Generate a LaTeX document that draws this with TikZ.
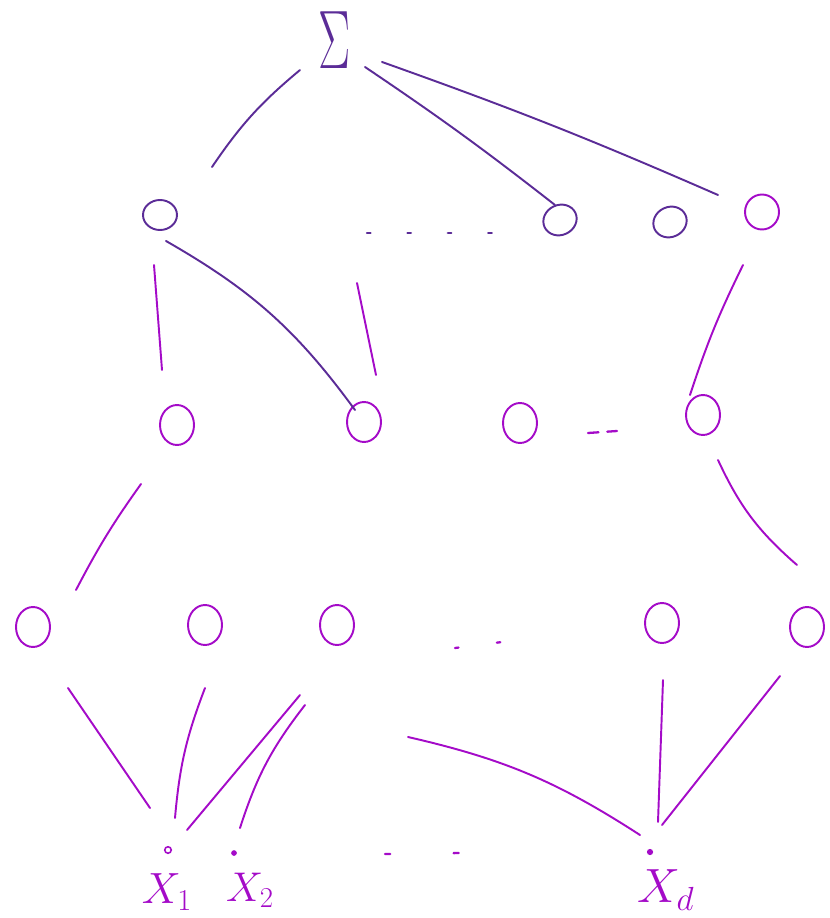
\documentclass[tikz,border=0pt]{standalone}
\usepackage{graphicx}
\usepackage{tikz}
\usetikzlibrary{calc, shapes.geometric}

\definecolor{inkdark}{HTML}{5B2C97}
\definecolor{inklight}{HTML}{A40BC8}

\begin{document}
\begin{tikzpicture}[
  x=0.02cm, y=-0.02cm,
  unit/.style={ellipse, draw, line width=1.1pt, minimum width=0.68cm, minimum height=0.8cm, inner sep=0pt},
  toprow/.style={unit, minimum width=0.68cm, minimum height=0.6cm},
  leaf/.style={circle, draw, line width=0.9pt, minimum size=0.13cm, inner sep=0pt},
  link/.style={line width=1.1pt, line cap=round},
  gap/.style={line width=1.3pt, line cap=round, dash pattern=on 2pt off 21pt},
  varlabel/.style={text=inklight, font=\fontsize{24}{26}\selectfont},
]
  \useasboundingbox (0,0) rectangle (829,918);

  % root
  \node[inkdark, font=\fontsize{24}{24}\selectfont] (sum) at (335,40) {\scalebox{1.1}[1.9]{$\Sigma$}};

  % first layer
  \node[toprow, inkdark] (a1) at (160,215) {};
  \node[toprow, inkdark, rotate=25] (a2) at (560,220) {};
  \node[toprow, inkdark, rotate=25] (a3) at (670,222) {};
  \node[unit, inklight, minimum height=0.7cm] (a4) at (762,212) {};
  \draw[gap, inkdark] (367,233) -- (492,233);

  % second layer
  \node[unit, inklight] (b1) at (177,425) {};
  \node[unit, inklight] (b2) at (364,422) {};
  \node[unit, inklight] (b3) at (520,423) {};
  \node[unit, inklight] (b4) at (703,415) {};
  \draw[gap, inklight, dash pattern=on 6pt off 5pt] (588,433) -- (617,431);

  % third layer
  \node[unit, inklight] (c1) at (33,627) {};
  \node[unit, inklight] (c2) at (205,625) {};
  \node[unit, inklight] (c3) at (337,625) {};
  \node[unit, inklight] (c4) at (662,623) {};
  \node[unit, inklight] (c5) at (807,627) {};
  \draw[gap, inklight, dash pattern=on 2pt off 22pt] (455,648) -- (502,642);

  % leaves
  \node[leaf, inklight] (x1) at (168,850) {};
  \node[leaf, inklight, fill, minimum size=0.08cm] (x2) at (234,853) {};
  \node[leaf, inklight, fill, minimum size=0.09cm] (xd) at (650,852) {};
  \draw[gap, inklight, dash pattern=on 3pt off 36pt] (385,854) -- (462,853);

  \node[varlabel] (l1) at (167,892) {$X_1$};
  \node[varlabel] (l2) at (250,890) {\scalebox{0.95}{$X_2$}};
  \node[varlabel] (ld) at (666,890) {\scalebox{1.1}{$X_d$}};

  % root edges
  \draw[link, inkdark] ($(sum)+(-35,30)$) to[bend right=8] ($(a1)+(52,-48)$);
  \draw[link, inkdark] ($(sum)+(30,27)$) to[bend left=2] ($(a2)+(-5,-15)$);
  \draw[link, inkdark] ($(sum)+(47,22)$) to[bend left=2] ($(a4)+(-44,-17)$);

  % first to second layer
  \draw[link, inklight] ($(a1)+(-6,50)$) -- ($(b1)+(-15,-55)$);
  \draw[link, inkdark] ($(a1)+(6,26)$) to[bend left=12] ($(b2)+(-9,-12)$);
  \coordinate (hid2) at (357,283);
  \draw[link, inklight] (hid2) -- ($(b2)+(12,-47)$);
  \draw[link, inklight] ($(a4)+(-19,53)$) to[bend right=4] ($(b4)+(-13,-20)$);

  % second to third layer
  \draw[link, inklight] ($(b1)+(-36,59)$) to[bend right=4] ($(c1)+(43,-37)$);
  \draw[link, inklight] ($(b4)+(15,45)$) to[bend right=12] ($(c5)+(-10,-62)$);

  % third layer to leaves
  \draw[link, inklight] ($(c1)+(35,61)$) -- ($(x1)+(-18,-42)$);
  \draw[link, inklight] ($(c2)+(0,63)$) to[bend right=8] ($(x1)+(7,-32)$);
  \draw[link, inklight] ($(c3)+(-37,70)$) -- ($(x1)+(19,-20)$);
  \draw[link, inklight] ($(c3)+(-32,80)$) to[bend right=10] ($(x2)+(6,-25)$);
  \coordinate (hid3) at (408,737);
  \draw[link, inklight] (hid3) to[bend left=10] ($(xd)+(-10,-17)$);
  \draw[link, inklight] ($(c4)+(1,57)$) -- ($(xd)+(8,-30)$);
  \draw[link, inklight] ($(c5)+(-27,49)$) -- ($(xd)+(12,-27)$);
\end{tikzpicture}
\end{document}
